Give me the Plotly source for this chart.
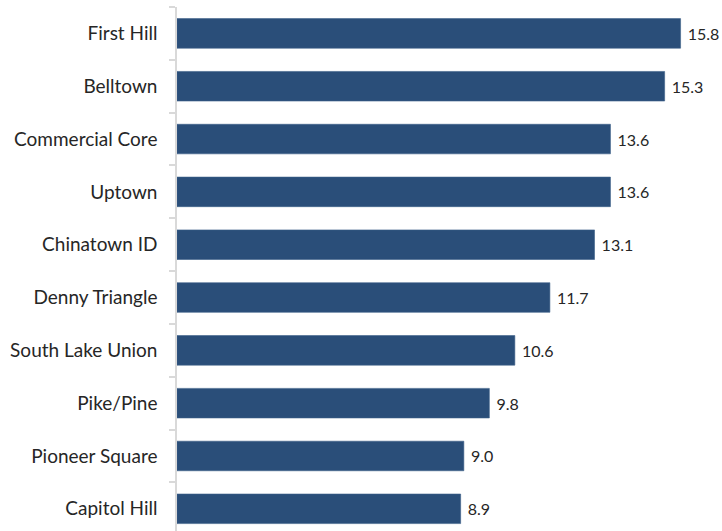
import plotly.graph_objects as go

neighborhoods = [
    "First Hill", "Belltown", "Commercial Core", "Uptown", "Chinatown ID",
    "Denny Triangle", "South Lake Union", "Pike/Pine", "Pioneer Square", "Capitol Hill",
]
values = [15.8, 15.3, 13.6, 13.6, 13.1, 11.7, 10.6, 9.8, 9.0, 8.9]

fig = go.Figure(
    go.Bar(
        x=values,
        y=neighborhoods,
        orientation="h",
        width=0.56,
        marker=dict(color="#2A4E79", line=dict(color="#3C5F88", width=0.6)),
        text=[f"\u00a0{v:.1f}" for v in values],
        textposition="outside",
        textfont=dict(family="Lato, 'Open Sans', sans-serif", size=16, color="#262626"),
        cliponaxis=False,
    )
)

fig.update_layout(
    width=722,
    height=531,
    margin=dict(l=177, r=0, t=7, b=0),
    paper_bgcolor="white",
    plot_bgcolor="white",
    showlegend=False,
    font=dict(family="Lato, 'Open Sans', sans-serif", size=19, color="#262626"),
)

fig.update_xaxes(
    range=[0, 17.1],
    showgrid=False,
    showticklabels=False,
    zeroline=False,
    ticks="",
)

fig.update_yaxes(
    categoryorder="array",
    categoryarray=neighborhoods,
    range=[9.42, -0.5],
    showline=True,
    linecolor="#D9D9D9",
    linewidth=1.5,
    ticks="outside",
    tickson="boundaries",
    ticklen=6,
    tickcolor="#D9D9D9",
    tickwidth=1.5,
    ticklabelstandoff=14,
    showgrid=False,
)

fig.write_html("out.html")
